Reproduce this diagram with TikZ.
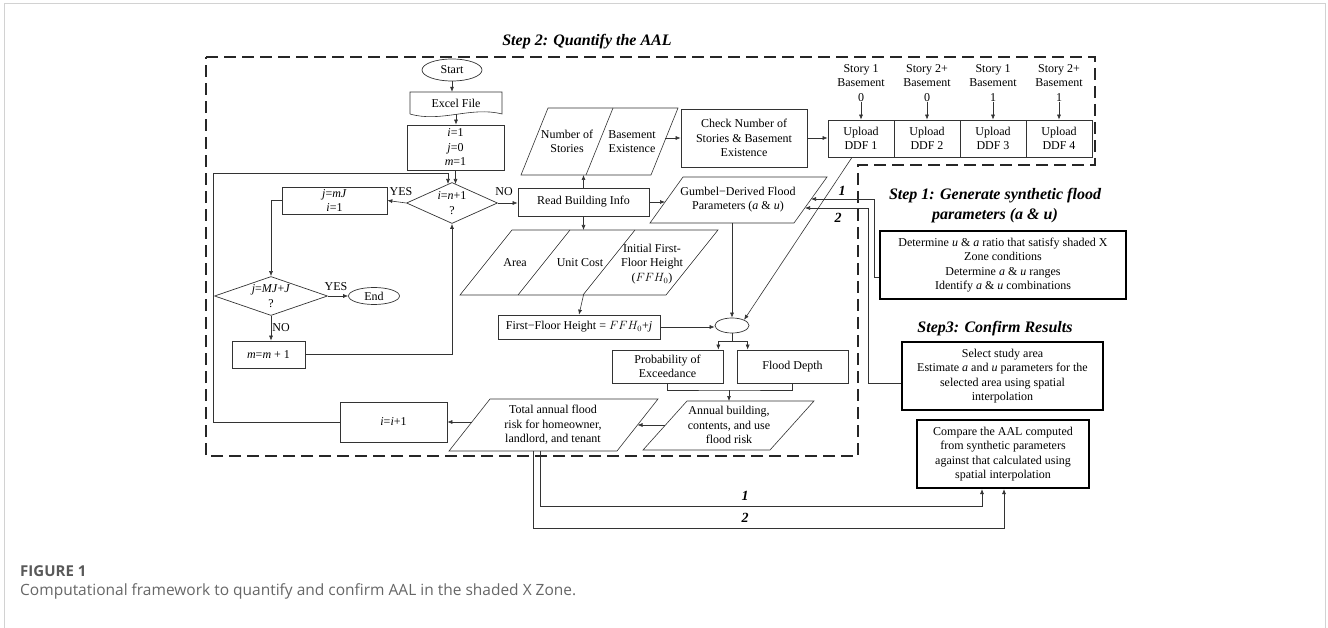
\documentclass[tikz,border=0pt]{standalone}
\usepackage{fontspec}
\setmainfont{Liberation Serif}
\newfontfamily\capfont{Open Sans}
\usetikzlibrary{arrows.meta,shapes.geometric,calc}

\begin{document}
\begin{tikzpicture}[x=1pt,y=-1pt,
		every node/.style={font=\fontsize{12}{14.5}\selectfont,align=center,inner sep=0pt},
		blk/.style={draw=black!80,line width=0.7pt,rectangle},
		thickblk/.style={draw=black,line width=2.2pt,rectangle},
		term/.style={draw=black!80,line width=0.7pt,ellipse},
		decision/.style={draw=black!80,line width=0.7pt,diamond},
		arr/.style={-{Latex[length=5pt,width=4pt]},line width=0.6pt,black!80},
		ln/.style={line width=0.6pt,black!80},
		steptitle/.style={font=\fontsize{16}{20}\selectfont\bfseries\itshape},
		flag/.style={font=\fontsize{14}{16}\selectfont\bfseries\itshape}]
		\useasboundingbox (0,0) rectangle (1328,628);
		
		% Panel frame
		\draw[gray!35,line width=0.8pt] (4,628) -- (4,3) -- (1325,3) -- (1325,628);
		
		% Step 2 frame
		\draw[line width=1.7pt,black!85,dash pattern=on 12pt off 6pt] (206,57) -- (1095,57) -- (1095,165) -- (858,165) -- (858,456) -- (206,456) -- cycle;
		\node[steptitle] (s2title) at (587,42) {Step 2: Quantify the AAL};
		
		% Loop control
		\node[term,minimum width=60pt,minimum height=22pt] (start) at (452,70) {Start};
		\node[minimum width=92pt,minimum height=22pt] (excel) at (456,103) {Excel File};
		\draw[ln] (410,114) -- (410,92) -- (502,92) -- (502,114) .. controls (471,106) and (441,123) .. (410,114);
		\node[blk,minimum width=97pt,minimum height=45pt] (init) at (455.5,147.5) {\textit{i}=1\\\textit{j}=0\\\textit{m}=1};
		\node[decision,minimum width=91pt,minimum height=41pt] (chk1) at (452,203) {};
		\node (chk1txt) at (chk1) {\textit{i}=\textit{n}+1\\?};
		\node[blk,minimum width=105pt,minimum height=27pt] (jset) at (334.5,200.5) {\textit{j}=\textit{mJ}\\\textit{i}=1};
		\node[decision,minimum width=113pt,minimum height=39pt] (chk2) at (271,296) {};
		\node (chk2txt) at (chk2) {\textit{j}=\textit{MJ}+\textit{J}\\?};
		\node[term,minimum width=51pt,minimum height=17pt] (stop) at (374,296) {End};
		\node[blk,minimum width=73pt,minimum height=27pt] (minc) at (268.5,354.5) {\textit{m}=\textit{m} + 1};
		\node[blk,minimum width=107pt,minimum height=40pt] (iinc) at (393.5,422) {\textit{i}=\textit{i}+1};
		
		\node (yes1) at (401,192) {YES};
		\node (no1) at (504,192) {NO};
		\node (yes2) at (336,287) {YES};
		\node (no2) at (281,328) {NO};
		
		% Building data
		\node[blk,minimum width=131pt,minimum height=28pt] (read) at (583.5,202) {Read Building Info};
		\draw[ln] (548,108) -- (678,108) -- (651,175) -- (521,175) -- cycle;
		\draw[ln] (613,108) -- (586,175);
		\node (nstory) at (567,141.5) {Number of\\Stories};
		\node (bexist) at (632,141.5) {Basement\\Existence};
		\coordinate (nbin) at (583.5,175);
		\coordinate (nbout) at (665,138);
		\node[blk,minimum width=126pt,minimum height=58pt] (chk) at (744,138) {Check Number of\\Stories \& Basement\\Existence};
		
		\foreach \k/\s/\b in {1/1/0,2/2+/0,3/1/1,4/2+/1}{
			\node[blk,minimum width=66pt,minimum height=37pt] (up\k) at ({861+66*(\k-1)},138.5) {Upload\\DDF \k};
			\node (lab\k) at ({861+66*(\k-1)},83) {Story \s\\Basement\\\b};
			\draw[arr] (lab\k.south) -- (up\k.north);
		}
		
		\draw[ln] (512,230) -- (718,230) -- (666,295) -- (460,295) -- cycle;
		\draw[ln] (570,230) -- (518,295);
		\draw[ln] (635,230) -- (583,295);
		\node (area) at (515,262.5) {Area};
		\node (ucost) at (580,262.5) {Unit Cost};
		\node (ffhzero) at (652,264) {Initial First-\\Floor Height\\($FFH_0$)};
		\coordinate (tin) at (583.5,230);
		\coordinate (tout) at (583.5,295);
		\node[blk,minimum width=162pt,minimum height=24pt] (ffh) at (579,327) {First−Floor Height = $FFH_0$+\textit{j}};
		
		% Flood parameters
		\draw[ln] (683,177) -- (827,177) -- (794,223) -- (650,223) -- cycle;
		\node (gumbel) at (738,199.5) {Gumbel−Derived Flood\\Parameters (\textit{a} \& \textit{u})};
		\coordinate (gin) at (665,202);
		\coordinate (gone) at (811,199);
		\coordinate (gtwo) at (805,208);
		\coordinate (gout) at (732,223);
		
		\node[term,minimum width=34pt,minimum height=15pt] (mrg) at (732,325.5) {};
		\node[blk,minimum width=111pt,minimum height=33pt] (prob) at (667.5,366.5) {Probability of\\Exceedance};
		\node[blk,minimum width=111pt,minimum height=33pt] (depth) at (792.5,366.5) {Flood Depth};
		\coordinate (join) at (729,390);
		
		\draw[ln] (687,401) -- (814,401) -- (770,450) -- (643,450) -- cycle;
		\node (annual) at (729,425) {Annual building,\\contents, and use\\flood risk};
		\coordinate (ain) at (729,401);
		\coordinate (aout) at (665,425);
		\draw[ln] (490,399) -- (658,399) -- (617,451) -- (449,451) -- cycle;
		\node (total) at (553,425) {Total annual flood\\risk for homeowner,\\landlord, and tenant};
		\coordinate (totin) at (637.5,425);
		\coordinate (totout) at (472,422);
		\coordinate (tbone) at (540,451);
		\coordinate (tbtwo) at (533,451);
		
		% Steps 1 and 3
		\node[steptitle] (s1title) at (995,206) {Step 1: Generate synthetic flood\\parameters (\textit{a} \& \textit{u})};
		\node[thickblk,minimum width=246pt,minimum height=68pt] (gen) at (1003,265) {Determine \textit{u} \& \textit{a} ratio that satisfy shaded X\\Zone conditions\\Determine \textit{a} \& \textit{u} ranges\\Identify \textit{a} \& \textit{u} combinations};
		\node[steptitle] (s3title) at (995,329) {Step3: Confirm Results};
		\node[thickblk,minimum width=201pt,minimum height=68pt] (conf) at (1002.5,376) {Select study area\\Estimate \textit{a} and \textit{u} parameters for the\\selected area using spatial\\interpolation};
		\node[thickblk,minimum width=172pt,minimum height=68pt] (cmp) at (1003,454) {Compare the AAL computed\\from synthetic parameters\\against that calculated using\\spatial interpolation};
		
		% Arrows
		\draw[arr] (start.south) -- (start.south |- excel.north);
		\draw[arr] (excel.south) -- (excel.south |- init.north);
		\draw[arr] (init.south) -- (init.south |- 0,184);
		\draw[arr] (chk1.west) -- (jset.east);
		\draw[arr] (jset.west) -| (chk2.north);
		\draw[arr] (chk2.east) -- (stop.west);
		\draw[arr] (chk2.south) -- (chk2.south |- minc.north);
		\draw[arr] (minc.east) -| (chk1.south);
		\draw[arr] (iinc.west) -| (213,173) -- (448,173) -- (448,184);
		\draw[arr] (chk1.east) -- (chk1.east -| read.west);
		\draw[arr] (read.north) -- (nbin);
		\draw[arr] (nbout) -- (nbout -| chk.west);
		\draw[arr] (chk.east) -- (chk.east -| up1.west);
		\draw[arr] (read.east) -- (gin);
		\draw[arr] (read.south) -- (tin);
		\draw[arr] (tout) -- (ffh.north);
		\draw[arr] (ffh.east) -- (ffh.east -| mrg.west);
		\draw[arr] (gout) -- (mrg.north);
		\draw[arr] ($(up1.south)+(-9,0)$) -- (mrg.25);
		\draw[ln] (mrg.south) -- ++(0,8) coordinate (split);
		\draw[arr] (split) -| ([xshift=-5pt]prob.north east);
		\draw[arr] (split) -| ([xshift=11pt]depth.north west);
		\draw[ln] (prob.south) |- (join) -| (depth.south);
		\draw[arr] (join) -- (ain);
		\draw[arr] (aout) -- (totin);
		\draw[arr] (totout) -- (iinc.east);
		
		\draw[arr] (gen.west |- 0,277) -| (874,199) -- (gone);
		\draw[arr] (conf.west |- 0,383) -| (868,208) -- (gtwo);
		\node[flag] (fone) at (842,191) {1};
		\node[flag] (ftwo) at (838,218) {2};
		
		\draw[arr] (tbone) |- ($(cmp.south)+(-21,17)$) -- ($(cmp.south)+(-21,0)$);
		\draw[arr] (tbtwo) |- ($(cmp.south)+(1,39)$) -- ($(cmp.south)+(1,0)$);
		\node[flag] (fthree) at (745,496) {1};
		\node[flag] (ffour) at (745,518) {2};
		
		% Caption
		\node[anchor=west,font=\capfont\fontsize{15}{17}\selectfont\bfseries,text=black!65] (fig) at (20,571) {FIGURE 1};
		\node[anchor=west,font=\capfont\fontsize{15.5}{17}\selectfont,text=black!60] (cap) at (20,591) {Computational framework to quantify and confirm AAL in the shaded X Zone.};
	\end{tikzpicture}
\end{document}
